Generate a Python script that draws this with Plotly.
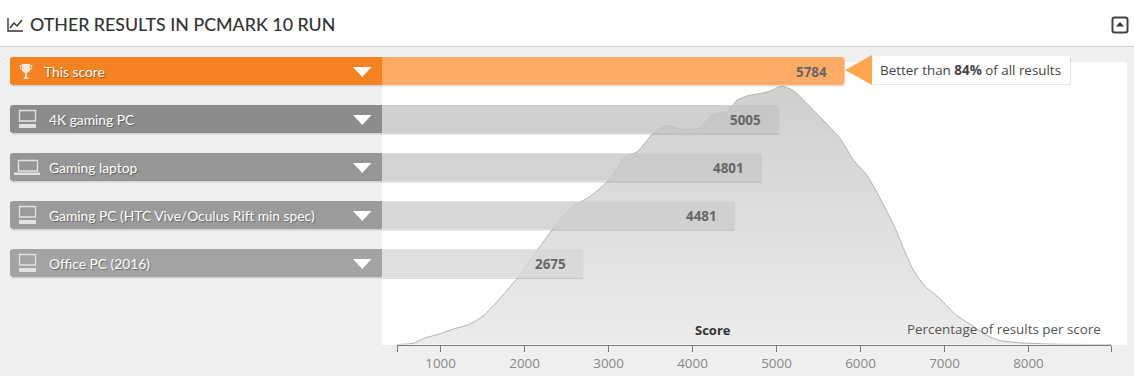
import plotly.graph_objects as go

W, H = 1134, 376
categories = ["This score", "4K gaming PC", "Gaming laptop",
              "Gaming PC (HTC Vive/Oculus Rift min spec)", "Office PC (2016)"]
scores = [5784, 5005, 4801, 4481, 2675]
bar_colors = ["#FFAB66", "rgba(196,196,196,0.8)", "rgba(200,200,200,0.8)",
              "rgba(205,205,205,0.8)", "rgba(215,215,215,0.8)"]
head_colors = ["#F58220", "#8C8C8C", "#969696", "#9B9B9B", "#A3A3A3"]

density_score = [484, 679, 798, 996, 1155, 1333, 1493, 1671, 1910, 1996, 2306, 2544, 2782, 2901,
                 3020, 3199, 3338, 3536, 3695, 3853, 4071, 4250, 4410, 4529, 4648, 4905, 5064,
                 5202, 5440, 5758, 5917, 6076, 6235, 6413, 6532, 6631, 6770, 6949, 7127, 7306,
                 7505, 7663, 7901, 8258, 8770, 8983]
density_pct = [0, 0.03, 0.14, 0.25, 0.36, 0.46, 0.64, 0.99, 1.53, 1.77, 2.60, 3.16, 3.44, 3.63,
               3.86, 4.36, 4.47, 4.91, 5.08, 5.00, 5.02, 5.34, 5.40, 5.67, 5.77, 5.87, 6.00,
               5.89, 5.44, 4.78, 4.28, 3.93, 3.39, 2.70, 2.14, 1.72, 1.35, 1.06, 0.70, 0.47,
               0.21, 0.09, 0.04, 0.01, 0, 0]
tick_vals = [481, 1000, 2000, 3000, 4000, 5000, 6000, 7000, 8000, 8983]
tick_text = ["", "1000", "2000", "3000", "4000", "5000", "6000", "7000", "8000", ""]


def px(x):
    return x / W


def py(y):
    return 1 - y / H


def path(cmds):
    out = []
    for c in cmds:
        if c[0] == "Z":
            out.append("Z")
        else:
            pts = " ".join(f"{px(c[i]):.5f},{py(c[i + 1]):.5f}" for i in range(1, len(c), 2))
            out.append(f"{c[0]} {pts}")
    return " ".join(out)


def shape(cmds, fill=None, line=None, lw=1, layer="above"):
    return dict(type="path", xref="paper", yref="paper", path=path(cmds), layer=layer,
                fillcolor=fill or "rgba(0,0,0,0)",
                line=dict(color=line or "rgba(0,0,0,0)", width=lw if line else 0))


def rect(x0, y0, x1, y1, **k):
    return shape([("M", x0, y0), ("L", x1, y0), ("L", x1, y1), ("L", x0, y1), ("Z",)], **k)


def rrect(x0, y0, x1, y1, r=3, left_only=False, **k):
    rr = 0 if left_only else r
    return shape([("M", x0 + r, y0), ("L", x1 - rr, y0), ("Q", x1, y0, x1, y0 + rr),
                  ("L", x1, y1 - rr), ("Q", x1, y1, x1 - rr, y1), ("L", x0 + r, y1),
                  ("Q", x0, y1, x0, y1 - r), ("L", x0, y0 + r), ("Q", x0, y0, x0 + r, y0), ("Z",)], **k)


shapes = [
    rect(0, 0, W, 46, fill="#FFFFFF", layer="below"),
    rect(0, 46, W, 47, fill="#CFCFCF", layer="below"),
    rect(382, 62, 1127, 345, fill="#FFFFFF", layer="below"),
    # title icon
    shape([("M", 8, 18), ("L", 8, 31), ("L", 23, 31)], line="#333333", lw=1.4),
    shape([("M", 10, 28), ("L", 14, 23), ("L", 17, 26), ("L", 22, 20)], line="#333333", lw=1.4),
    # collapse button
    rrect(1112.5, 17.5, 1127.5, 32.5, r=2, line="#444444", lw=2),
    shape([("M", 1120, 22), ("L", 1124, 26.5), ("L", 1116, 26.5), ("Z",)], fill="#333333"),
    # tooltip
    rect(873, 58, 1071, 85, fill="rgba(0,0,0,0.10)"),
    rrect(872, 56, 1070, 84, r=2, fill="#FFFFFF"),
    shape([("M", 845, 70), ("L", 872, 55), ("L", 872, 85), ("Z",)], fill="#FFA64D"),
]

annotations = [
    dict(text="OTHER RESULTS IN PCMARK 10 RUN", x=px(27.5), y=py(24.5), xanchor="left", yanchor="middle",
         font=dict(family="Lato", size=17.8, color="#333333", weight=500)),
    dict(text="Better than <b>84%</b> of all results", x=px(877.5), y=py(70), xanchor="left", yanchor="middle",
         font=dict(family="Open Sans", size=13.4, color="#444444")),
    dict(text="<b>Score</b>", x=px(713), y=py(330), xanchor="center", yanchor="middle",
         font=dict(family="Open Sans", size=13, color="#333333")),
    dict(text="Percentage of results per score", x=px(1102.5), y=py(329), xanchor="right", yanchor="middle",
         font=dict(family="Open Sans", size=13.4, color="#555555")),
]

for i, (cat, col) in enumerate(zip(categories, head_colors)):
    top = 57 + 48 * i
    shapes.append(rect(12, top + 28, 382, top + 29.5, fill="rgba(0,0,0,0.12)"))
    shapes.append(rrect(10, top, 382, top + 28, r=3, left_only=True, fill=col))
    shapes.append(shape([("M", 353, top + 10), ("L", 371.5, top + 10), ("L", 362.2, top + 20), ("Z",)],
                        fill="#FFFFFF"))
    annotations.append(dict(text=cat, x=px(41.5 if i == 0 else 46.5), y=py(top + 14.5), xanchor="left",
                            yanchor="middle",
                            font=dict(family="Lato", size=13.8, color="#FFFFFF",
                                      shadow="1px 1px 1px rgba(0,0,0,0.35)")))
    annotations.append(dict(text=f"<b>{scores[i]}</b>", x=scores[i], y=i, xref="x2", yref="y2",
                            xanchor="right", yanchor="middle", xshift=-16, yshift=-0.5, showarrow=False,
                            font=dict(family="Open Sans", size=13.4, color="#666666")))
    ico = "#E2E2E2"
    if i == 0:  # trophy
        shapes.append(shape([("M", 22, 64), ("L", 30, 64), ("L", 30, 69), ("Q", 29.5, 72.5, 27, 73),
                             ("L", 27, 77), ("L", 29, 79), ("L", 23, 79), ("L", 25, 77), ("L", 25, 73),
                             ("Q", 22.5, 72.5, 22, 69), ("Z",)], fill="#F8E6D6"))
        shapes.append(shape([("M", 22, 65.5), ("L", 20, 65.5), ("Q", 20, 70, 23, 71)], line="#F8E6D6", lw=1))
        shapes.append(shape([("M", 30, 65.5), ("L", 32, 65.5), ("Q", 32, 70, 29, 71)], line="#F8E6D6", lw=1))
    elif i == 2:  # laptop
        shapes.append(rect(18.5, top + 7.5, 37.5, top + 18, line=ico, lw=1.3))
        shapes.append(rect(14, top + 19.5, 40, top + 22, fill=ico))
    else:  # desktop
        shapes.append(rect(19.5, top + 5.5, 35.5, top + 16, line=ico, lw=1.3))
        shapes.append(rect(19, top + 19, 36, top + 23, fill=ico))

for a in annotations:
    a.setdefault("xref", "paper")
    a.setdefault("yref", "paper")
    a.setdefault("showarrow", False)

y_idx = list(range(len(categories)))

fig = go.Figure()
fig.add_trace(go.Scatter(
    x=density_score, y=density_pct, mode="lines", xaxis="x", yaxis="y",
    line=dict(color="#B0B0B0", width=1, shape="spline", smoothing=0.6),
    fill="tozeroy",
    fillgradient=dict(type="vertical", colorscale=[[0, "#ECECEC"], [1, "#CFCFCF"]]),
    hoverinfo="skip", showlegend=False))
fig.add_trace(go.Bar(
    y=y_idx, x=scores, orientation="h", xaxis="x2", yaxis="y2", width=1.5 / 48, offset=14 / 48,
    marker=dict(color="rgba(0,0,0,0.13)", line=dict(width=0)),
    hoverinfo="skip", showlegend=False))
fig.add_trace(go.Bar(
    y=y_idx, x=scores, orientation="h", xaxis="x2", yaxis="y2", width=28 / 48,
    marker=dict(color=bar_colors, line=dict(width=0)),
    hoverinfo="skip", showlegend=False))

fig.update_layout(
    width=W, height=H, margin=dict(l=0, r=0, t=0, b=0),
    paper_bgcolor="#EFEFEF", plot_bgcolor="rgba(0,0,0,0)",
    barmode="overlay", barcornerradius=3, showlegend=False,
    shapes=shapes, annotations=annotations,
    xaxis=dict(domain=[397 / W, 1111 / W], range=[481, 8983], showgrid=False, zeroline=False,
               showline=True, linecolor="#777777", linewidth=1, ticks="outside", ticklen=6,
               tickcolor="#777777", tickvals=tick_vals, ticktext=tick_text, anchor="y",
               tickfont=dict(family="Open Sans", size=13.4, color="#888888")),
    yaxis=dict(domain=[1 - 344.5 / H, 1 - 47 / H], range=[0, 6.907], visible=False, anchor="x"),
    xaxis2=dict(domain=[382 / W, 1127 / W], range=[276, 9145], visible=False, anchor="y2"),
    yaxis2=dict(domain=[1 - 344.5 / H, 1 - 47 / H], range=[5.6875, -0.5], visible=False, anchor="x2"),
)

fig.write_html("out.html", config=dict(displayModeBar=False),
               post_script="document.body.style.margin='0';document.body.style.overflow='hidden';")
